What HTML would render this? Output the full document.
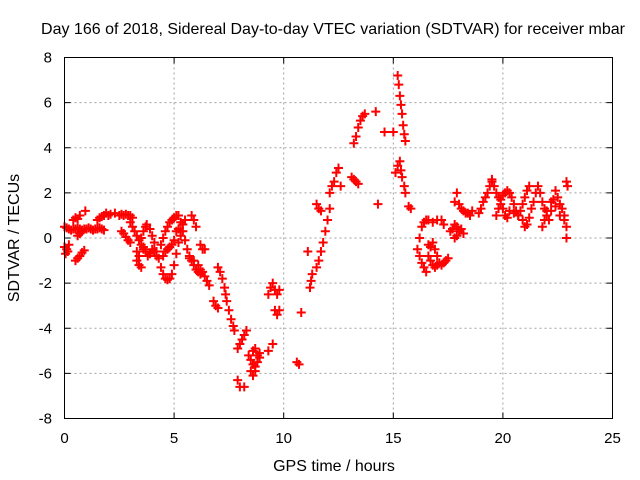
<!DOCTYPE html>
<html><head><meta charset="utf-8"><style>
html,body{margin:0;padding:0;background:#fff;}
svg{display:block;font-family:"Liberation Sans",sans-serif;}
</style></head><body>
<svg id="chart" width="640" height="480">
<text x="333" y="34" text-anchor="middle" font-size="16">Day 166 of 2018, Sidereal Day-to-day VTEC variation (SDTVAR) for receiver mbar</text>
<text x="334" y="471" text-anchor="middle" font-size="16">GPS time / hours</text>
<text transform="translate(19,238) rotate(-90)" text-anchor="middle" font-size="16">SDTVAR / TECUs</text>
<g id="grid"></g><g id="ticks"></g><g id="marks"></g>
<rect x="64.5" y="57.5" width="548" height="361" fill="none" stroke="#000" stroke-width="1"/>
</svg>
<script>
const xTicks=[0,5,10,15,20,25];
const yTicks=[-8,-6,-4,-2,0,2,4,6,8];
const obs=[
[0,-0.4],[0.1,-0.5],[0.2,-0.3],[0.05,-0.7],[0.15,-0.6],
[0,0.5],[0.1,0.45],[0.2,0.4],[0.3,0.35],[0.4,0.4],[0.5,0.4],[0.6,0.45],[0.7,0.4],[0.8,0.35],[0.9,0.4],[1.0,0.4],[1.1,0.45],[1.2,0.4],[1.3,0.35],[1.4,0.4],[1.5,0.4],[1.6,0.45],[1.7,0.4],[1.8,0.35],
[0.4,0.8],[0.5,0.9],[0.6,0.85],[0.7,1.0],[0.95,1.2],
[0.6,0.1],[0.7,0.2],[0.8,0.3],
[0.5,-1.0],[0.6,-0.9],[0.7,-0.8],[0.8,-0.65],[0.9,-0.55],
[1.5,0.8],[1.6,0.9],[1.7,0.95],[1.8,1.0],[1.9,1.1],[2.0,1.0],[2.1,1.05],[2.3,1.1],[2.5,1.0],[2.6,1.05],[2.7,1.0],[2.8,1.05],[2.9,1.0],[3.0,1.0],[3.1,0.9],
[2.6,0.3],[2.7,0.2],[2.8,0.05],[2.9,-0.1],[3.0,-0.2],
[3.0,0.7],[3.1,0.5],[3.2,0.3],[3.3,0.1],[3.4,-0.1],[3.5,-0.3],[3.6,-0.5],
[3.3,-0.6],[3.4,-0.8],[3.3,-1.0],[3.4,-1.2],[3.5,-1.3],
[3.5,0],[3.6,0.3],[3.7,0.5],[3.75,0.6],[3.9,0.4],[4.0,0.1],[4.1,-0.2],[4.2,-0.6],[4.3,-0.9],[4.4,-1.3],[4.5,-1.6],[4.6,-1.8],[4.7,-1.85],[4.8,-1.8],[4.9,-1.6],[5.0,-1.2],[5.1,-0.7],[5.2,-0.2],[5.3,0.3],[5.4,0.6],[5.5,0.8],
[3.6,-0.4],[3.7,-0.6],[3.8,-0.8],[3.9,-0.7],[4.0,-0.5],[4.1,-0.6],[4.2,-0.8],
[4.4,-0.3],[4.5,0],[4.6,0.3],[4.7,0.5],[4.8,0.7],[4.9,0.8],[5.0,0.9],[5.1,1.0],[5.2,1.0],[5.3,0.7],[5.4,0.3],[5.5,-0.1],[5.6,-0.5],[5.7,-0.8],[5.8,-1.0],[5.9,-1.2],[6.0,-1.4],[6.1,-1.5],[6.2,-1.6],
[4.5,-0.8],[4.6,-0.6],[4.7,-0.5],[4.8,-0.4],[4.9,-0.3],[5.0,-0.1],[5.1,0.3],[5.2,0.4],[5.3,0.1],
[5.8,1.0],[5.9,0.8],[6.0,0.5],
[6.2,-0.3],[6.3,-0.5],[6.4,-0.5],
[5.7,-0.9],[5.9,-1.0],[6.1,-1.2],[6.2,-1.4],[6.3,-1.5],[6.4,-1.7],[6.5,-1.9],[6.6,-2.1],
[6.8,-2.8],[6.9,-3.0],[7.0,-3.1],
[7.0,-1.3],[7.1,-1.5],[7.2,-1.8],[7.3,-2.2],[7.35,-2.5],
[7.4,-2.8],[7.5,-3.2],[7.6,-3.6],[7.7,-3.9],[7.75,-4.1],
[7.9,-4.9],[8.0,-4.7],[8.1,-4.5],[8.2,-4.3],[8.3,-4.1],
[7.9,-6.3],[8.0,-6.6],[8.2,-6.6],
[8.4,-5.2],[8.5,-5.4],[8.6,-5.6],[8.7,-5.7],[8.8,-5.5],[8.9,-5.3],[8.5,-5.9],[8.6,-6.1],[8.7,-5.9],[8.8,-5.2],[8.6,-5.0],[8.7,-4.9],[8.9,-5.1],
[9.3,-5.0],[9.5,-4.7],
[9.3,-2.5],[9.4,-2.2],[9.5,-2.0],[9.6,-2.3],[9.7,-2.5],[9.8,-2.3],
[9.6,-3.2],[9.7,-3.4],[9.8,-3.2],
[10.6,-5.5],[10.7,-5.6],[10.8,-3.3],[11.1,-0.6],
[11.2,-2.2],[11.25,-1.9],[11.3,-1.6],
[11.5,-1.3],[11.6,-1.0],[11.7,-0.6],[11.8,-0.2],[11.9,0.3],[12.0,0.8],[12.1,1.3],
[11.5,1.5],[11.6,1.3],[11.7,1.2],
[12.1,2.0],[12.2,2.3],[12.3,2.5],[12.4,2.9],[12.5,3.1],[12.6,2.3],
[13.1,2.7],[13.2,2.6],[13.3,2.5],[13.4,2.4],
[13.2,4.2],[13.3,4.5],[13.4,4.9],[13.5,5.2],[13.6,5.4],[13.7,5.5],
[14.2,5.6],[14.3,1.5],[14.6,4.7],[15.0,4.7],
[15.2,7.2],[15.25,6.8],[15.3,6.3],[15.35,5.9],[15.4,5.5],[15.45,5.0],[15.5,4.6],[15.55,4.3],
[15.1,2.9],[15.2,3.2],[15.3,3.4],[15.35,3.0],
[15.4,2.7],[15.5,2.3],[15.55,2.0],
[15.7,1.4],[15.8,1.3],
[16.2,0],[16.3,0.5],[16.4,0.7],[16.5,0.8],[16.6,0.8],[16.8,0.7],[17.0,0.8],[17.2,0.8],[17.3,0.6],
[16.1,-0.5],[16.2,-0.8],[16.3,-1.1],[16.4,-1.3],[16.5,-1.5],[16.6,-0.3],[16.7,-0.4],[16.8,-0.2],[16.9,-0.5],[17.0,-0.8],[17.1,-1.1],[17.2,-1.2],[17.3,-1.1],[17.4,-1.0],[17.5,-0.9],
[16.6,-0.8],[16.7,-1.0],[16.8,-1.2],[16.9,-1.3],[17.0,-1.2],
[17.6,0.3],[17.7,0.4],[17.8,0.6],[17.9,0.5],
[17.8,0],[17.9,0.1],[18.0,0.3],[18.1,0.4],[18.2,0.2],
[17.8,1.6],[17.9,2.0],[18.0,1.5],[18.1,1.3],[18.2,1.2],[18.3,1.1],[18.4,1.1],[18.5,1.0],[18.6,1.2],
[18.9,1.1],[19.0,1.3],[19.1,1.6],[19.2,1.8],[19.3,2.0],[19.4,2.3],[19.5,2.5],
[19.5,2.6],[19.6,2.3],[19.7,2.0],[19.8,1.8],[19.9,1.5],[20.0,1.3],[20.1,1.0],[20.2,0.9],
[19.7,1.0],[19.8,1.3],[19.9,1.7],[20.0,1.9],[20.1,2.0],[20.2,2.1],[20.3,2.0],[20.4,1.8],[20.5,1.5],[20.6,1.2],[20.7,1.0],[20.8,1.2],[20.9,1.5],[21.0,1.8],[21.1,2.1],[21.2,2.3],
[20.3,1.2],[20.5,1.1],[20.7,1.0],[20.9,0.8],[21.0,0.5],[21.1,0.6],[21.2,0.9],[21.3,1.3],[21.4,1.6],[21.5,2.0],[21.6,2.3],[21.7,2.0],[21.8,1.6],[21.9,1.3],[22.0,1.0],[22.1,0.8],[22.2,1.2],[22.3,1.7],[22.4,2.1],[22.5,1.8],[22.6,1.5],[22.7,1.3],[22.8,1.0],[22.9,0.5],[22.9,0],
[21.8,0.5],[21.9,0.8],[22.0,1.2],[22.2,1.6],[22.4,1.4],[22.6,1.0],[22.8,0.8],
[22.9,2.5],[22.95,2.3]
];
const L=64.5,R=612.5,T=57.5,B=418.5;
function xs(t){return L+(t-0)/(25-0)*(R-L);}
function ys(v){return B-(v+8)/16*(B-T);}
const NS='http://www.w3.org/2000/svg';
const grid=document.getElementById('grid'),ticks=document.getElementById('ticks'),marks=document.getElementById('marks');
function mk(tag,attrs,parent){const e=document.createElementNS(NS,tag);for(const k in attrs)e.setAttribute(k,attrs[k]);parent.appendChild(e);return e;}
xTicks.forEach(t=>{
  const x=xs(t);
  if(t>0&&t<25){const g=mk('line',{x1:x,x2:x,y1:T,y2:B,stroke:'#a0a0a0','stroke-dasharray':'2,3'},grid);
  
  }
  mk('line',{x1:x,x2:x,y1:B,y2:B-6,stroke:'#000'},ticks);
  mk('line',{x1:x,x2:x,y1:T,y2:T+6,stroke:'#000'},ticks);
  const lb=mk('text',{x:x,y:443,'text-anchor':'middle','font-size':'15'},ticks);
  lb.textContent=t;
  
  
});
yTicks.forEach(v=>{
  const y=ys(v);
  if(v>-8&&v<8){const g=mk('line',{x1:L,x2:R,y1:y,y2:y,stroke:'#a0a0a0','stroke-dasharray':'2,3'},grid);
  
  }
  mk('line',{x1:L,x2:L+6,y1:y,y2:y,stroke:'#000'},ticks);
  mk('line',{x1:R,x2:R-6,y1:y,y2:y,stroke:'#000'},ticks);
  const lb=mk('text',{x:52,y:y+5,'text-anchor':'end','font-size':'15'},ticks);
  lb.textContent=v;
  
  
});
obs.forEach(p=>{
  const x=xs(p[0]),y=ys(p[1]);
  const m=mk('path',{d:`M${x-4.5},${y}H${x+4.5}M${x},${y-4.5}V${y+4.5}`,stroke:'#ff0000','stroke-width':'2',fill:'none'},marks);
  
  
});
</script>
</body></html>
